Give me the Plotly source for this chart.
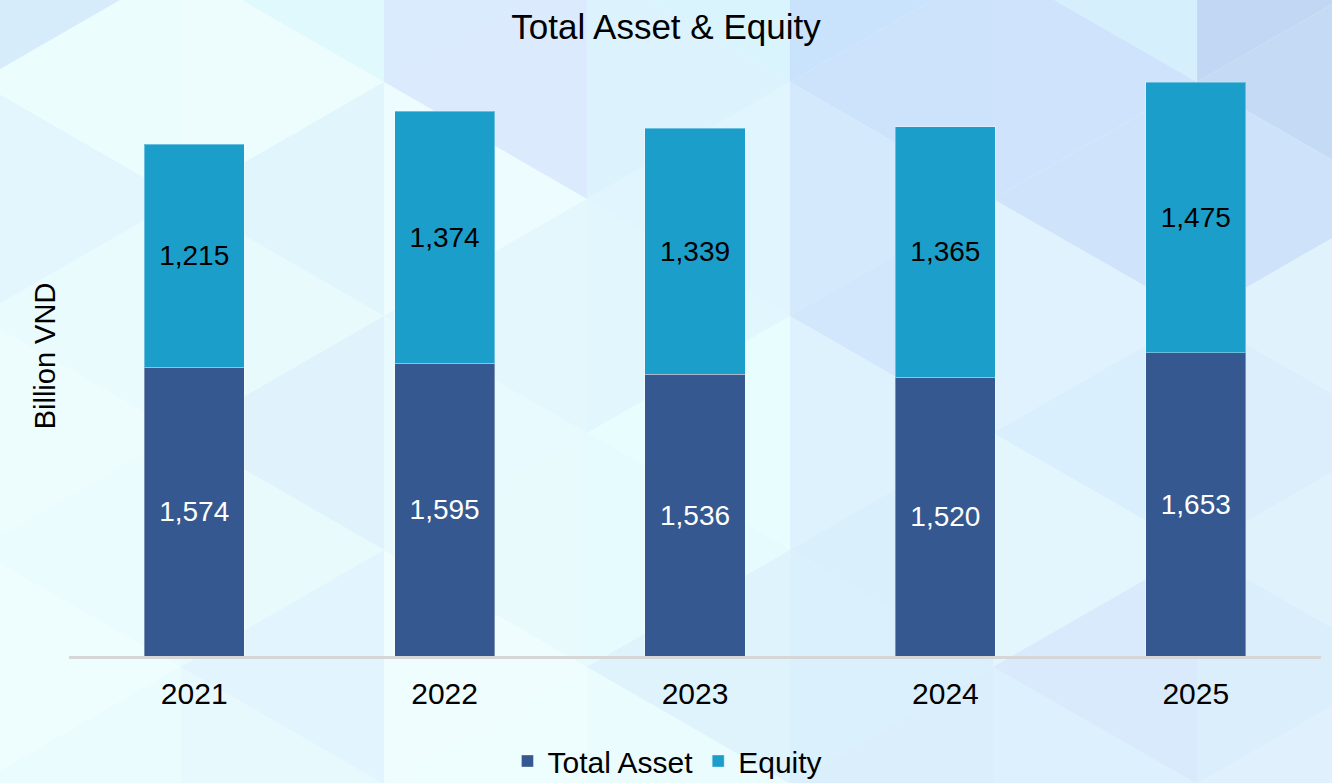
import plotly.graph_objects as go

years = ["2021", "2022", "2023", "2024", "2025"]
total_asset = [1574, 1595, 1536, 1520, 1653]
equity = [1215, 1374, 1339, 1365, 1475]

W, H = 1332, 783
L, R, T, B = 69, 11, 56, 127
pw, ph = W - L - R, H - T - B


def px(x, y):
    # pixel -> paper coords
    return (x - L) / pw, (H - B - y) / ph


def poly(points, color):
    d = ""
    for i, (x, y) in enumerate(points):
        a, b = px(x, y)
        d += ("M" if i == 0 else "L") + f"{a:.4f},{b:.4f} "
    return dict(type="path", path=d + "Z", xref="paper", yref="paper",
                fillcolor=color, line=dict(width=0), layer="below")


# background: triangle lattice (decoration only)
col_x = [-22, 181, 384, 587, 790, 993, 1197, 1400]
col_colors = [
    ["#d7ecfa", "#ecfdfe", "#e3f6fd", "#eafbfe", "#edfdfe", "#eafcfe", "#eefdfe", "#ebfcfe"],
    ["#dff9fd", "#edfdfe", "#e1f5fc", "#e9fafd", "#e0f3fc", "#e9fafd", "#e2f4fd", "#e8f9fd"],
    ["#d9ebfc", "#dbeafc", "#edfcfe", "#e4f7fd", "#e8fafd", "#e9fafd", "#effdfe", "#eefdfe"],
    ["#d9f4fd", "#dcf3fd", "#e0f5fd", "#e2f6fd", "#e7fdfe", "#e5fbfe", "#dff3fd", "#ebfcfe"],
    ["#c9e3fc", "#cde3fc", "#d5e9fc", "#d2e6fc", "#ddf2fd", "#d9effc", "#daf0fd", "#dbeefc"],
    ["#d5effd", "#cfe4fc", "#cfe4fb", "#dff2fd", "#d9effd", "#e3f5fd", "#d8eafc", "#dcf0fd"],
    ["#c2d7f3", "#c5dbf5", "#cee3fa", "#e0f3fd", "#dcedfc", "#e0f3fd", "#dbeefc", "#e0f1fd"],
]
h = 234
bg = []
for c in range(7):
    a, b = col_x[c], col_x[c + 1]
    even_left = c % 2 == 0
    for i in range(8):
        cy = -35 + 117 * i
        right_pointing = (i % 2 == 0) == even_left
        if right_pointing:
            pts = [(a, cy - h / 2), (a, cy + h / 2), (b, cy)]
        else:
            pts = [(b, cy - h / 2), (b, cy + h / 2), (a, cy)]
        bg.append(poly(pts, col_colors[c][i]))

fig = go.Figure()
fig.add_trace(go.Bar(
    x=years, y=total_asset, name="Total Asset",
    marker=dict(color="#34588f", line=dict(color="rgba(255,255,255,0.35)", width=1)),
    text=[f"{v:,}" for v in total_asset], textposition="inside",
    insidetextanchor="middle", textfont=dict(color="white", size=28),
))
fig.add_trace(go.Bar(
    x=years, y=equity, name="Equity",
    marker=dict(color="#1b9fca", line=dict(color="rgba(255,255,255,0.35)", width=1)),
    text=[f"{v:,}" for v in equity], textposition="inside",
    insidetextanchor="middle", textfont=dict(color="black", size=28),
))

fig.update_layout(
    width=W, height=H,
    barmode="stack", bargap=0.6,
    margin=dict(l=L, r=R, t=T, b=B, autoexpand=False),
    font=dict(family="Liberation Sans, Arial, sans-serif", color="black", size=29),
    paper_bgcolor="#e6f8fd", plot_bgcolor="rgba(0,0,0,0)",
    title=dict(text="Total Asset & Equity", x=0.5, xanchor="center",
               y=1 - 27 / H, yanchor="middle", font=dict(size=35)),
    shapes=bg,
    showlegend=True,
    legend=dict(orientation="h", x=0.478, xanchor="center", y=-0.175, yanchor="middle",
                font=dict(size=30), bgcolor="rgba(0,0,0,0)", traceorder="normal",
                itemwidth=30),
    uniformtext=dict(mode="show", minsize=10),
)
fig.update_xaxes(showline=True, linecolor="#d6d6d6", linewidth=3, ticks="",
                 showgrid=False, tickfont=dict(size=30), ticklabelstandoff=9)
fig.update_yaxes(range=[0, 3270], showticklabels=False, showgrid=False,
                 zeroline=False, showline=False,
                 title=dict(text="Billion VND", font=dict(size=29), standoff=3))

fig.write_html("out.html", config={"displayModeBar": False},
               post_script="document.body.style.margin='0';")
